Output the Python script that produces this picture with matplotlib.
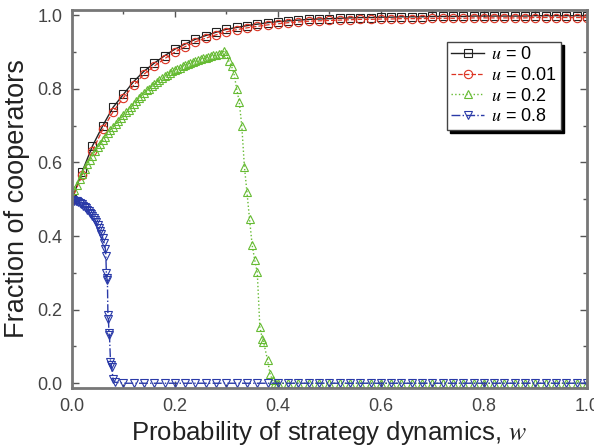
import matplotlib.pyplot as plt
import numpy as np

plt.rcParams['font.family'] = ['Liberation Sans', 'DejaVu Sans']
plt.rcParams['mathtext.fontset'] = 'stix'

# u = 0 and u = 0.01, sampled every 0.02
w_coarse = np.round(np.arange(0, 1.0001, 0.02), 3)
frac_u0 = [0.500, 0.575, 0.645, 0.700, 0.750, 0.785, 0.820, 0.848, 0.870, 0.890,
           0.908, 0.922, 0.935, 0.945, 0.954, 0.962, 0.967, 0.972, 0.976, 0.980,
           0.983, 0.985, 0.987, 0.989, 0.990, 0.991, 0.992, 0.993, 0.994, 0.994,
           0.995, 0.995, 0.996, 0.996, 0.996, 0.997, 0.997, 0.997, 0.997, 0.998,
           0.998, 0.998, 0.998, 0.998, 0.998, 0.999, 0.999, 0.999, 0.999, 0.999, 0.999]
frac_u001 = [0.500, 0.565, 0.632, 0.690, 0.738, 0.776, 0.810, 0.840, 0.862, 0.882,
             0.900, 0.915, 0.928, 0.938, 0.947, 0.955, 0.961, 0.966, 0.970, 0.974,
             0.977, 0.980, 0.982, 0.984, 0.985, 0.986, 0.987, 0.988, 0.989, 0.989,
             0.990, 0.990, 0.991, 0.991, 0.991, 0.992, 0.992, 0.992, 0.992, 0.993,
             0.993, 0.993, 0.993, 0.993, 0.993, 0.994, 0.994, 0.994, 0.994, 0.994, 0.994]

# u = 0.2
w_u02 = list(np.round(np.arange(0, 0.2951, 0.005), 4)) + [
    0.300, 0.305, 0.310, 0.315, 0.320, 0.325, 0.330, 0.335, 0.340, 0.345,
    0.350, 0.355, 0.360, 0.365, 0.370, 0.372, 0.380, 0.385, 0.390, 0.395] + \
    list(np.round(np.arange(0.40, 1.0001, 0.02), 3))
frac_u02 = [0.510, 0.525, 0.540, 0.555, 0.568, 0.582, 0.595, 0.607, 0.619, 0.630,
            0.641, 0.651, 0.660, 0.670, 0.679, 0.688, 0.696, 0.704, 0.712, 0.720,
            0.728, 0.736, 0.744, 0.751, 0.760, 0.767, 0.775, 0.782, 0.790, 0.796,
            0.801, 0.807, 0.813, 0.818, 0.825, 0.830, 0.834, 0.839, 0.843, 0.848,
            0.852, 0.855, 0.858, 0.862, 0.865, 0.868, 0.871, 0.874, 0.876, 0.878,
            0.881, 0.883, 0.885, 0.887, 0.889, 0.891, 0.892, 0.894, 0.896, 0.902,
            0.895, 0.875, 0.862, 0.840, 0.800, 0.765, 0.698, 0.589, 0.519, 0.446,
            0.376, 0.335, 0.301, 0.153, 0.120, 0.113, 0.063, 0.024, 0.008, 0.000] + \
           [0.0] * 31

# u = 0.8
w_u08 = list(np.round(np.arange(0, 0.0626, 0.0025), 4)) + [
    0.065, 0.066, 0.067, 0.068, 0.069, 0.070, 0.071, 0.072, 0.073, 0.075,
    0.076, 0.077, 0.080, 0.083] + list(np.round(np.arange(0.10, 1.0001, 0.02), 3))
frac_u08 = [0.497, 0.497, 0.496, 0.495, 0.494, 0.492, 0.490, 0.488, 0.486, 0.483,
            0.480, 0.476, 0.472, 0.468, 0.464, 0.459, 0.454, 0.449, 0.443, 0.437,
            0.430, 0.423, 0.415, 0.405, 0.395, 0.382,
            0.365, 0.345, 0.300, 0.285, 0.280, 0.185, 0.175, 0.136, 0.130, 0.058,
            0.050, 0.045, 0.012, 0.003] + [0.0] * 46

fig = plt.figure(figsize=(5.94, 4.46), dpi=100)
ax = fig.add_axes([0.121, 0.130, 0.867, 0.848])

ms = 6
ax.plot(w_coarse, frac_u0, '-', color='#222222', lw=1.0, marker='s', ms=ms,
        mfc='none', mew=0.8, label='$u$ = 0')
ax.plot(w_coarse, frac_u001, '--', color='#dd3322', lw=0.9, marker='o', ms=ms,
        mfc='none', mew=0.8, label='$u$ = 0.01')
ax.plot(w_u02, frac_u02, ':', color='#66bb33', lw=1.0, marker='^', ms=ms,
        mfc='none', mew=0.8, label='$u$ = 0.2')
ax.plot(w_u08, frac_u08, '-.', color='#2a3aa8', lw=1.0, marker='v', ms=ms,
        mfc='none', mew=0.8, label='$u$ = 0.8')

ax.set_xlim(0, 1.0)
ax.set_ylim(-0.013, 1.015)
ax.set_xticks(np.arange(0, 1.01, 0.2))
ax.set_yticks(np.arange(0, 1.01, 0.2))
ax.set_xticks(np.arange(0.1, 1.0, 0.2), minor=True)
ax.set_yticks(np.arange(0.1, 1.0, 0.2), minor=True)
ax.xaxis.set_major_formatter(plt.FormatStrFormatter('%.1f'))
ax.yaxis.set_major_formatter(plt.FormatStrFormatter('%.1f'))
ax.tick_params(which='both', direction='in', top=True, right=True,
               color='#555555', labelcolor='#444444', labelsize=13, width=1)
ax.tick_params(which='major', length=5, pad=7)
ax.tick_params(which='minor', length=3)
for s in ax.spines.values():
    s.set_color('#777777')
    s.set_linewidth(2)

ax.set_xlabel('Probability of strategy dynamics, $w$', fontsize=18.5, color='#222222', labelpad=3)
ax.set_ylabel('Fraction of cooperators', fontsize=19.5, color='#222222', labelpad=5)

leg = ax.legend(loc='upper left', bbox_to_anchor=(0.728, 0.915), fontsize=13,
                frameon=True, fancybox=False, edgecolor='#444444',
                shadow={'color': 'black', 'alpha': 1.0}, borderpad=0.25,
                borderaxespad=0, labelspacing=0.2, handlelength=1.8,
                handletextpad=0.4)
leg.get_frame().set_linewidth(1.0)

fig.savefig('out.png', dpi=100)
